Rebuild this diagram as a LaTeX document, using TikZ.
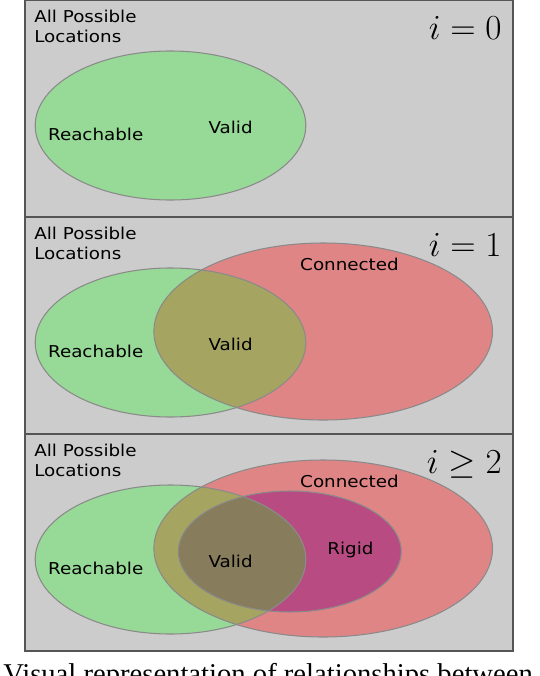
\documentclass[tikz,border=0pt]{standalone}
\usepackage{fix-cm}
\usepackage{amsmath}
\usepackage{fontspec}
\usepackage{tikz}
\newfontfamily\setfont{DejaVu Sans}[FakeStretch=1.12]
\newfontfamily\capfont{Liberation Serif}
\definecolor{panelgray}{HTML}{CCCCCC}
\definecolor{panelline}{HTML}{555555}
\definecolor{setedge}{HTML}{8A8A8A}
\definecolor{reachgreen}{HTML}{97D996}
\definecolor{connred}{HTML}{E08585}
\definecolor{botholive}{HTML}{A5A561}
\definecolor{rigidpurple}{HTML}{B84C82}
\definecolor{validbrown}{HTML}{877C5C}

\begin{document}
\begin{tikzpicture}[x=0.02cm, y=-0.02cm,
  panelbox/.style={fill=panelgray, draw=panelline, line width=0.85pt},
  setline/.style={draw=setedge, line width=0.6pt},
  setlabel/.style={font=\setfont\fontsize{9.3}{11}\selectfont, inner sep=0pt, anchor=base},
  steplabel/.style={font=\fontsize{20}{22}\selectfont, inner sep=0pt, anchor=base east}]
  \useasboundingbox (0,0) rectangle (540,676);
  \clip (0,0) rectangle (540,676);
  \fill[white] (0,0) rectangle (540,676);

  %% Panels with universe label and iteration
  \foreach \k/\oy/\lab in {0/0/{$i=0$}, 1/217/{$i=1$}, 2/434/{$i\geq 2$}}{
    \draw[panelbox] (25,\oy) rectangle (513,\oy+217);
    \node[setlabel, anchor=base west] (all\k) at (34,\oy+22) {All Possible};
    \node[setlabel, anchor=base west] (loc\k) at (34,\oy+42) {Locations};
    \node[steplabel] (iter\k) at (502,\oy+39) {\lab};
  }

  %% i = 0
  \fill[reachgreen] (170.5,125.5) ellipse [x radius=135.3, y radius=74.5];
  \draw[setline] (170.5,125.5) ellipse [x radius=135.3, y radius=74.5];
  \node[setlabel] (reach0) at (95.7,140) {Reachable};
  \node[setlabel] (valid0) at (230.6,133) {Valid};

  %% i = 1
  \begin{scope}[shift={(0,217)}]
    \fill[reachgreen] (170.5,125.5) ellipse [x radius=135.3, y radius=74.5];
    \fill[connred] (323.2,114.5) ellipse [x radius=169.3, y radius=88.5];
    \begin{scope}
      \clip (170.5,125.5) ellipse [x radius=135.3, y radius=74.5];
      \fill[botholive] (323.2,114.5) ellipse [x radius=169.3, y radius=88.5];
    \end{scope}
    \draw[setline] (170.5,125.5) ellipse [x radius=135.3, y radius=74.5];
    \draw[setline] (323.2,114.5) ellipse [x radius=169.3, y radius=88.5];
    \node[setlabel] (reach1) at (95.7,140) {Reachable};
    \node[setlabel] (valid1) at (230.6,133) {Valid};
    \node[setlabel] (conn1) at (349.5,53) {Connected};
  \end{scope}

  %% i >= 2
  \begin{scope}[shift={(0,434)}]
    \fill[reachgreen] (170.5,125.5) ellipse [x radius=135.3, y radius=74.5];
    \fill[connred] (323.2,114.5) ellipse [x radius=169.3, y radius=88.5];
    \fill[rigidpurple] (289.8,117.5) ellipse [x radius=111.4, y radius=60.5];
    \begin{scope}
      \clip (170.5,125.5) ellipse [x radius=135.3, y radius=74.5];
      \fill[botholive] (323.2,114.5) ellipse [x radius=169.3, y radius=88.5];
      \fill[validbrown] (289.8,117.5) ellipse [x radius=111.4, y radius=60.5];
    \end{scope}
    \draw[setline] (170.5,125.5) ellipse [x radius=135.3, y radius=74.5];
    \draw[setline] (323.2,114.5) ellipse [x radius=169.3, y radius=88.5];
    \draw[setline] (289.8,117.5) ellipse [x radius=111.4, y radius=60.5];
    \node[setlabel] (reach2) at (95.7,140) {Reachable};
    \node[setlabel] (valid2) at (230.6,133) {Valid};
    \node[setlabel] (conn2) at (349.5,53) {Connected};
    \node[setlabel] (rigid2) at (350.4,120) {Rigid};
  \end{scope}

  \node[font=\capfont\fontsize{16.3}{19}\selectfont, inner sep=0pt, anchor=base west] (caption) at (3,683) {Visual representation of relationships between};
\end{tikzpicture}
\end{document}
